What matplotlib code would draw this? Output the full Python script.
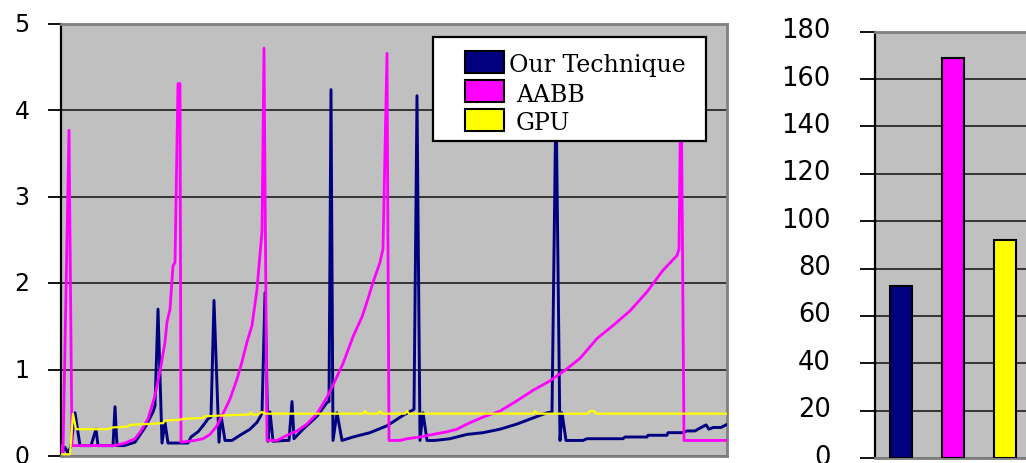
import matplotlib
matplotlib.use("Agg")
import matplotlib.pyplot as plt
from matplotlib.patches import Rectangle
from matplotlib.transforms import Affine2D, ScaledTranslation

# Per-frame collision query time (left) and total time (right)
labels = ["Our Technique", "AABB", "GPU"]
colors = ["#000080", "#FF00FF", "#FFFF00"]

frame_ours = [0, 4, 7, 10, 14, 19, 30, 35, 37, 52, 54, 56, 63, 74, 84, 92, 94, 97,
              101, 104, 107, 127, 130, 137, 142, 147, 150, 153, 158, 160, 164, 171,
              179, 189, 196, 199, 201, 204, 207, 209, 212, 224, 228, 231, 233, 242,
              256, 266, 268, 270, 272, 276, 281, 292, 309, 326, 342, 353, 356, 359,
              362, 366, 374, 389, 406, 422, 439, 456, 472, 486, 491, 495, 499, 501,
              505, 522, 526, 562, 564, 586, 587, 606, 607, 622, 626, 634, 637, 645,
              648, 652, 660, 665]
ours = [0.02, 0.10, 0.03, 0.12, 0.50, 0.12, 0.12, 0.31, 0.12, 0.12, 0.57, 0.12,
        0.12, 0.16, 0.33, 0.51, 0.58, 1.70, 0.15, 0.39, 0.15, 0.15, 0.22, 0.28,
        0.35, 0.43, 0.45, 1.80, 0.16, 0.47, 0.18, 0.18, 0.24, 0.31, 0.39, 0.45,
        0.50, 1.89, 0.17, 0.51, 0.17, 0.18, 0.18, 0.63, 0.20, 0.31, 0.46, 0.62,
        0.63, 4.24, 0.18, 0.50, 0.18, 0.22, 0.27, 0.35, 0.47, 0.54, 4.17, 0.18,
        0.50, 0.18, 0.18, 0.20, 0.25, 0.27, 0.31, 0.37, 0.44, 0.50, 0.51, 4.20,
        0.18, 0.50, 0.18, 0.18, 0.20, 0.20, 0.22, 0.22, 0.24, 0.24, 0.27, 0.27,
        0.29, 0.29, 0.31, 0.36, 0.31, 0.33, 0.33, 0.36]

frame_aabb = [0, 2, 8, 11, 54, 64, 74, 80, 87, 94, 100, 104, 106, 109, 112, 114,
              117, 119, 120, 134, 142, 149, 156, 162, 169, 176, 181, 186, 191, 196,
              198, 201, 203, 206, 216, 226, 236, 246, 256, 266, 274, 282, 292, 301,
              307, 312, 319, 322, 326, 328, 339, 346, 359, 372, 386, 396, 406, 422,
              439, 456, 472, 489, 506, 519, 536, 552, 569, 586, 602, 616, 618, 620,
              623, 666]
aabb = [0.12, 0.03, 3.77, 0.12, 0.12, 0.15, 0.20, 0.29, 0.43, 0.70, 1.04, 1.32,
        1.55, 1.70, 2.20, 2.24, 4.31, 4.31, 0.16, 0.18, 0.20, 0.25, 0.35, 0.49,
        0.66, 0.89, 1.09, 1.32, 1.51, 1.93, 2.20, 2.60, 4.72, 0.18, 0.18, 0.24,
        0.29, 0.37, 0.49, 0.68, 0.87, 1.07, 1.38, 1.61, 1.82, 2.01, 2.24, 2.40,
        4.66, 0.18, 0.18, 0.20, 0.22, 0.25, 0.28, 0.31, 0.37, 0.45, 0.52, 0.64,
        0.76, 0.87, 1.01, 1.13, 1.36, 1.51, 1.68, 1.90, 2.15, 2.32, 2.40, 4.60,
        0.18, 0.18]

frame_gpu = [0, 9, 12, 15, 47, 51, 66, 69, 102, 104, 119, 122, 142, 144, 164, 188,
             190, 192, 197, 201, 204, 302, 304, 306, 317, 319, 321, 344, 346, 348,
             472, 474, 476, 527, 529, 533, 535, 666]
gpu = [0.02, 0.02, 0.49, 0.31, 0.31, 0.33, 0.34, 0.36, 0.38, 0.41, 0.42, 0.43,
       0.44, 0.46, 0.47, 0.48, 0.50, 0.48, 0.48, 0.51, 0.49, 0.49, 0.52, 0.49,
       0.49, 0.52, 0.49, 0.49, 0.52, 0.49, 0.49, 0.52, 0.49, 0.49, 0.52, 0.52,
       0.49, 0.49]

totals = [72.7, 169.1, 92.2]

W, H = 1026, 464
fig = plt.figure(figsize=(W / 100, H / 100), dpi=100)
fig.patch.set_facecolor("white")

# pixel coordinates measured from the top-left corner of the figure
px = Affine2D().scale(1 / W, -1 / H).translate(0, 1) + fig.transFigure

tick_font = "DejaVu Sans"
legend_font = "DejaVu Serif"
plot_bg = "#C0C0C0"
grid_col = "#2a2a2a"


def style_axes(ax):
    ax.set_facecolor(plot_bg)
    for side in ("top", "right", "bottom"):
        ax.spines[side].set_color("#808080")
        ax.spines[side].set_linewidth(2.0)
    ax.spines["left"].set_color("black")
    ax.spines["left"].set_linewidth(1.6)
    ax.grid(axis="y", color=grid_col, linewidth=1.3)
    ax.set_axisbelow(True)
    ax.tick_params(axis="x", bottom=False, labelbottom=False)


def lift_labels(ax, points):
    shift = ScaledTranslation(0, points / 72, fig.dpi_scale_trans)
    for t in ax.get_yticklabels():
        t.set_fontfamily(tick_font)
        t.set_transform(t.get_transform() + shift)


# Left: time per frame
ax = fig.add_axes([61 / W, 7 / H, 666 / W, 432 / H])
style_axes(ax)
ax.plot(frame_ours, ours, color=colors[0], lw=2.1, zorder=3)
ax.plot(frame_aabb, aabb, color=colors[1], lw=2.0, zorder=4)
ax.plot(frame_gpu, gpu, color=colors[2], lw=1.6, zorder=5)
ax.set_xlim(0, 666)
ax.set_ylim(0, 5)
ax.set_yticks(range(0, 6))
ax.tick_params(axis="y", length=9.5, width=1.3, color="black", pad=13,
               labelsize=17)
lift_labels(ax, 1.6)

# Legend box
fig.patches.append(Rectangle((432.7, 38.3), 273, 103.4, transform=px,
                             facecolor="white", edgecolor="black",
                             linewidth=1.6, zorder=10))
sw_tops = [51.7, 81.0, 110.0]
for lab, col, top in zip(labels, colors, sw_tops):
    fig.patches.append(Rectangle((465, top), 39, 22, transform=px,
                                 facecolor=col, edgecolor="black",
                                 linewidth=1.5, zorder=11))
    x0 = 509 if lab == labels[0] else 516
    fig.text(x0, top + 20.5, lab, transform=px, family=legend_font,
             fontsize=17, ha="left", va="baseline", zorder=12)

# Right: total time
bx = fig.add_axes([875 / W, 5 / H, 156 / W, 426.3 / H])
style_axes(bx)
bx.bar(range(3), totals, width=0.42, color=colors, edgecolor="black",
       linewidth=1.5, zorder=3)
bx.set_xlim(-0.5, 2.5)
bx.set_ylim(0, 180)
bx.set_yticks(range(0, 181, 20))
bx.tick_params(axis="y", length=10.8, width=1.3, color="black", pad=21,
               labelsize=18.5)
lift_labels(bx, 3.2)

fig.savefig("out.png", dpi=100, facecolor="white")
